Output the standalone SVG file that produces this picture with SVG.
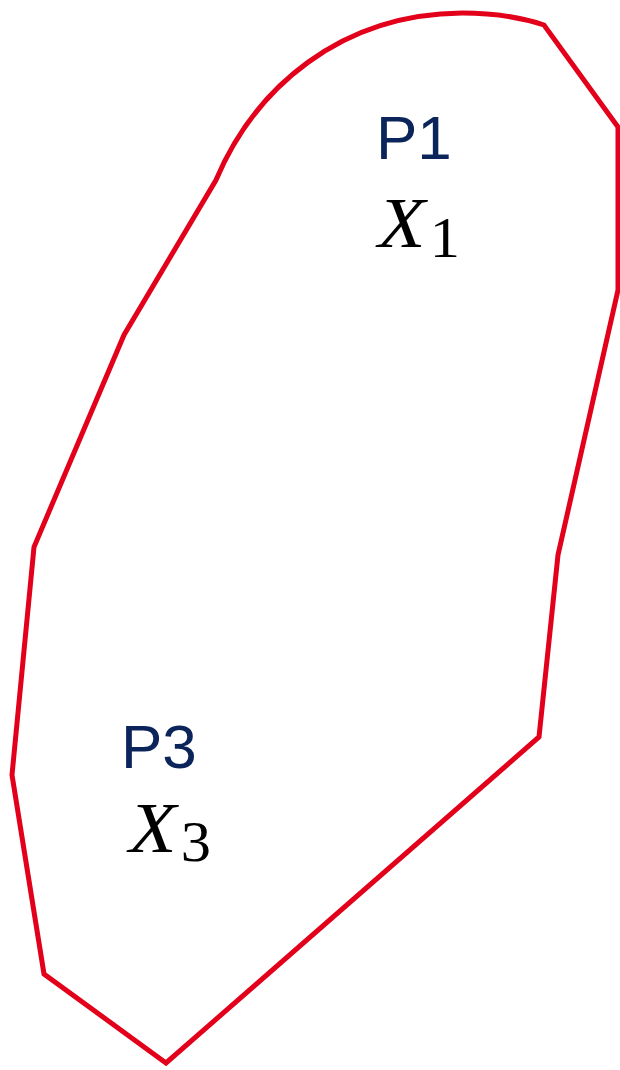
<svg xmlns="http://www.w3.org/2000/svg" width="620" height="1070" viewBox="0 0 620 1070">
<style>
.region{fill:none;stroke:#e2001a;stroke-width:5;stroke-linejoin:miter}
.lbl{font-family:"Liberation Sans",Arial,sans-serif;font-size:62px;fill:#0b2459}
.math{font-family:"Liberation Serif","DejaVu Serif",serif;fill:#000}
.mi{font-style:italic;font-size:72px}
.sub{font-size:56px}
</style>
<rect width="620" height="1070" fill="#fff"/>
<g id="region">
<path class="region" d="M216,180 C255,88 340,14 462,13 C495,13 520,17 544,25 L618,127 L618,290 L558,555 L539,737 L166,1063 L44,974 L12,775 L34,547 L124,335 Z"/>
</g>
<g id="p1">
<text class="lbl" x="376" y="159">P1</text>
<text class="math" x="378" y="247" textLength="82" lengthAdjust="spacingAndGlyphs"><tspan class="mi">X</tspan><tspan class="sub" dx="4" dy="10">1</tspan></text>
</g>
<g id="p3">
<text class="lbl" x="121" y="768">P3</text>
<text class="math" x="129" y="852" textLength="82" lengthAdjust="spacingAndGlyphs"><tspan class="mi">X</tspan><tspan class="sub" dx="4" dy="9">3</tspan></text>
</g>
</svg>
